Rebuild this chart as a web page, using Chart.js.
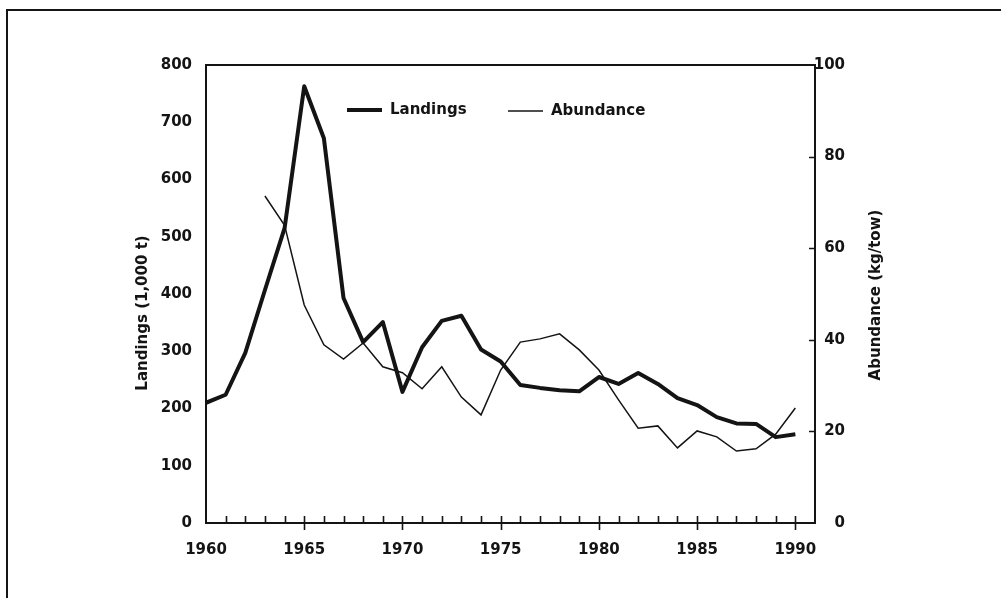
<!DOCTYPE html>
<html>
<head>
<meta charset="utf-8">
<title>Landings and Abundance, 1960-1990</title>
<script src="https://cdn.jsdelivr.net/npm/chart.js@4.4.1/dist/chart.umd.min.js"></script>
<style>
  html, body { margin: 0; padding: 0; background: #fff; }
  #wrap { position: relative; width: 1001px; height: 598px; overflow: hidden; }
  #frame { position: absolute; left: 6px; top: 9px; right: -4px; bottom: -4px;
           border-top: 2px solid #151515; border-left: 2px solid #151515; }
  #c { position: absolute; left: 0; top: 0; }
</style>
</head>
<body>
<div id="wrap">
  <div id="frame"></div>
  <canvas id="c" width="1001" height="598"></canvas>
</div>
<script>
// ─── data ───────────────────────────────────────────────────────────────
const YEARS = [1960, 1961, 1962, 1963, 1964, 1965, 1966, 1967, 1968, 1969,
               1970, 1971, 1972, 1973, 1974, 1975, 1976, 1977, 1978, 1979,
               1980, 1981, 1982, 1983, 1984, 1985, 1986, 1987, 1988, 1989, 1990];
// landings, 1,000 t (left axis)
const LANDINGS = [210, 224, 297, 407, 515, 763, 672, 393, 316, 351,
                  229, 307, 353, 362, 303, 282, 241, 236, 232, 230,
                  255, 243, 262, 243, 218, 206, 185, 174, 173, 150, 155];
// abundance, kg/tow (right axis) - survey starts 1963
const ABUNDANCE = [null, null, null, 71.4, 65.0, 47.6, 38.9, 35.8, 39.3, 34.1,
                   32.8, 29.3, 34.1, 27.5, 23.6, 33.4, 39.5, 40.2, 41.3, 37.8,
                   33.4, 26.9, 20.7, 21.2, 16.4, 20.1, 18.8, 15.7, 16.2, 19.4, 25.1];
const X_TICKS = [1960, 1965, 1970, 1975, 1980, 1985, 1990];
const Y_TICKS = [0, 100, 200, 300, 400, 500, 600, 700, 800];
const Y1_TICKS = [0, 20, 40, 60, 80, 100];

const INK = '#141414';
const FONT = { family: "'DejaVu Sans', sans-serif", size: 15, weight: 'bold' };
const FONT_CSS = 'bold 15px "DejaVu Sans", sans-serif';

// ─── frame, tick marks, legend, axis titles ─────────────────────────────
const axesDecor = {
  id: 'axesDecor',
  afterDraw(chart) {
    const ctx = chart.ctx;
    const a = chart.chartArea;
    const x = chart.scales.x, y1 = chart.scales.y1;
    ctx.save();
    ctx.strokeStyle = INK;
    ctx.lineWidth = 2;
    ctx.strokeRect(a.left, a.top, a.right - a.left, a.bottom - a.top);

    // year ticks: inward every year, crossing the axis every 5 years
    ctx.lineWidth = 1.6;
    ctx.beginPath();
    YEARS.forEach(function(yr) {
      if (yr === YEARS[0]) return;
      const px = Math.round(x.getPixelForValue(yr)) + 0.5;
      ctx.moveTo(px, a.bottom - 7);
      ctx.lineTo(px, yr % 5 === 0 ? a.bottom + 7 : a.bottom);
    });
    // right axis ticks, pointing inward
    Y1_TICKS.forEach(function(v) {
      if (v === 0 || v === 100) return;
      const py = Math.round(y1.getPixelForValue(v)) + 0.5;
      ctx.moveTo(a.right - 6, py);
      ctx.lineTo(a.right, py);
    });
    ctx.stroke();

    // legend, one row inside the plot
    ctx.fillStyle = INK;
    ctx.font = FONT_CSS;
    ctx.textAlign = 'left';
    ctx.textBaseline = 'middle';
    const legendPos = [[347, 110], [508, 111]];
    chart.data.datasets.forEach(function(ds, i) {
      const lx = legendPos[i][0], ly = legendPos[i][1];
      ctx.lineWidth = ds.borderWidth;
      ctx.strokeStyle = ds.borderColor;
      ctx.beginPath();
      ctx.moveTo(lx, ly);
      ctx.lineTo(lx + 35, ly);
      ctx.stroke();
      ctx.fillText(ds.label, lx + 43, ly);
    });

    // axis titles (both read bottom to top)
    ctx.textAlign = 'center';
    ctx.translate(143, 313);
    ctx.rotate(-Math.PI / 2);
    ctx.fillText('Landings (1,000 t)', 0, 0);
    ctx.setTransform(1, 0, 0, 1, 0, 0);
    ctx.translate(876, 295);
    ctx.rotate(-Math.PI / 2);
    ctx.fillText('Abundance (kg/tow)', 0, 0);
    ctx.restore();
  }
};

new Chart(document.getElementById('c'), {
  type: 'line',
  data: {
    datasets: [
      {
        label: 'Landings',
        data: YEARS.map(function(yr, i) { return { x: yr, y: LANDINGS[i] }; }),
        yAxisID: 'y',
        borderColor: INK,
        borderWidth: 4,
        pointRadius: 0,
        tension: 0,
        borderJoinStyle: 'round',
      },
      {
        label: 'Abundance',
        data: YEARS.map(function(yr, i) { return { x: yr, y: ABUNDANCE[i] }; }),
        yAxisID: 'y1',
        borderColor: INK,
        borderWidth: 1.5,
        pointRadius: 0,
        tension: 0,
      },
    ],
  },
  options: {
    responsive: false,
    animation: false,
    layout: { padding: { top: 65, left: 0, right: 156, bottom: 0 } },
    plugins: {
      tooltip: { enabled: false },
      legend: { display: false },
    },
    scales: {
      x: {
        type: 'linear',
        min: 1960,
        max: 1991,
        grid: { display: false },
        border: { display: false },
        afterBuildTicks: function(scale) { scale.ticks = X_TICKS.map(function(v) { return { value: v }; }); },
        afterFit: function(scale) { scale.height = 75; },
        ticks: {
          padding: 10,
          color: INK,
          font: FONT,
          maxRotation: 0,
          callback: function(v) { return String(v); },
        },
      },
      y: {
        position: 'left',
        min: 0,
        max: 800,
        grid: { display: false },
        border: { display: false },
        afterBuildTicks: function(scale) { scale.ticks = Y_TICKS.map(function(v) { return { value: v }; }); },
        afterFit: function(scale) { scale.width = 206; },
        ticks: { padding: 6, color: INK, font: FONT, callback: function(v) { return String(v); } },
      },
      y1: {
        position: 'right',
        min: 0,
        max: 100,
        grid: { display: false },
        border: { display: false },
        afterBuildTicks: function(scale) { scale.ticks = Y1_TICKS.map(function(v) { return { value: v }; }); },
        afterFit: function(scale) { scale.width = 30; },
        ticks: { padding: 0, crossAlign: 'far', color: INK, font: FONT, callback: function(v) { return String(v); } },
      },
    },
  },
  plugins: [axesDecor],
});
</script>
</body>
</html>
